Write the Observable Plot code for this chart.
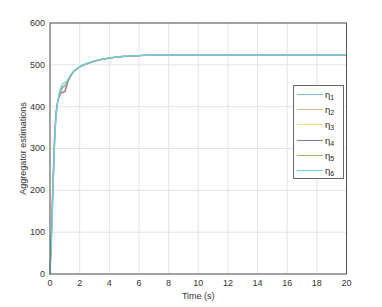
<!DOCTYPE html>
<html><head><meta charset="utf-8">
<script src="https://cdn.jsdelivr.net/npm/d3@7"></script>
<script src="https://cdn.jsdelivr.net/npm/@observablehq/plot@0.6"></script>
<style>
html,body{margin:0;padding:0;background:#fff;}
#wrap{position:relative;width:382px;height:307px;font-family:"Liberation Sans",Arial,sans-serif;}
#legend{position:absolute;left:293px;top:85px;width:51px;height:94px;border:1px solid #666;background:#fff;box-sizing:border-box;}
.item{position:absolute;left:0;height:12px;font-size:9.5px;color:#262626;}
.item span.sw{position:absolute;left:3px;top:5px;width:26px;height:0;border-top:1.4px solid;}
.item span.lb{position:absolute;left:31px;top:0;white-space:nowrap;}
sub{font-size:7px;vertical-align:-2px;}
</style></head>
<body><div id="wrap"><div id="chart"></div><div id="legend"></div></div>
<script>
const time = [0,0.1,0.2,0.3,0.4,0.5,0.6,0.7,0.8,0.9,1.0,1.1,1.2,1.4,1.6,1.8,2.0,2.5,3,3.5,4,5,6,7,8,10,12,14,16,18,20];
const eta1 = [0,85,195,300,370,405,422,433,441,446,449,455,462,475,484,490,495,503,509,513,516,520,522,523,523,523,523,523,523,523,523];
const eta2 = [0,115,235,330,385,410,422,430,434,436,440,450,460,474,484,490,495,503,509,513,516,520,522,523,523,523,523,523,523,523,523];
const eta3 = [0,90,205,310,375,407,424,436,444,449,451,456,463,475,484,490,495,503,509,513,516,520,522,523,523,523,523,523,523,523,523];
const eta4 = [0,100,215,318,380,408,422,430,434,434,435,446,458,473,483,490,495,503,509,513,516,520,522,523,523,523,523,523,523,523,523];
const eta5 = [0,95,210,315,378,408,424,437,445,449,450,455,462,475,484,490,495,503,509,513,516,520,522,523,523,523,523,523,523,523,523];
const eta6 = [0,80,190,300,372,408,428,443,452,456,457,460,465,476,485,491,496,504,510,514,517,521,522,523,523,523,523,523,523,523,523];
const seriesNames = ["η1","η2","η3","η4","η5","η6"];
const seriesSub = ["1","2","3","4","5","6"];
const seriesColors = ["#7bb8e6","#f0b595","#f3d996","#9a6aac","#93bd6a","#6ccdf0"];
const xTicks = [0,2,4,6,8,10,12,14,16,18,20];
const yTicks = [0,100,200,300,400,500,600];

const allSeries = [eta1,eta2,eta3,eta4,eta5,eta6];
const rows = [];
allSeries.forEach((s,k)=>s.forEach((v,i)=>rows.push({t:time[i], v, name:seriesNames[k]})));

const chart = Plot.plot({
  width:382, height:307,
  marginLeft:49.5, marginRight:36, marginTop:22.5, marginBottom:33.5,
  style:{fontFamily:"Liberation Sans, Arial, sans-serif", fontSize:"9px", color:"#333", background:"#fff"},
  x:{domain:[0,20]},
  y:{domain:[0,600]},
  color:{domain:seriesNames, range:seriesColors},
  marks:[
    Plot.gridX(xTicks,{stroke:"#e3e3e3", strokeOpacity:1}),
    Plot.gridY(yTicks,{stroke:"#e3e3e3", strokeOpacity:1}),
    Plot.line(rows,{x:"t", y:"v", z:"name", stroke:"name", strokeWidth:1.2, curve:"monotone-x"}),
    Plot.frame({stroke:"#555", strokeWidth:1}),
    Plot.axisX({ticks:xTicks, tickSize:0, tickPadding:6, label:"Time (s)", labelAnchor:"center", labelOffset:25, labelArrow:"none"}),
    Plot.axisY({ticks:yTicks, tickSize:0, tickPadding:5, label:"Aggregator estimations", labelAnchor:"center", labelOffset:30, labelArrow:"none"})
  ]
});
document.getElementById("chart").appendChild(chart);

const leg = document.getElementById("legend");
seriesNames.forEach((n,i)=>{
  const d = document.createElement("div");
  d.className="item";
  d.style.top = (3 + i*15.2) + "px";
  d.innerHTML = `<span class="sw" style="border-color:${seriesColors[i]}"></span><span class="lb">η<sub>${seriesSub[i]}</sub></span>`;
  leg.appendChild(d);
});
</script></body></html>
